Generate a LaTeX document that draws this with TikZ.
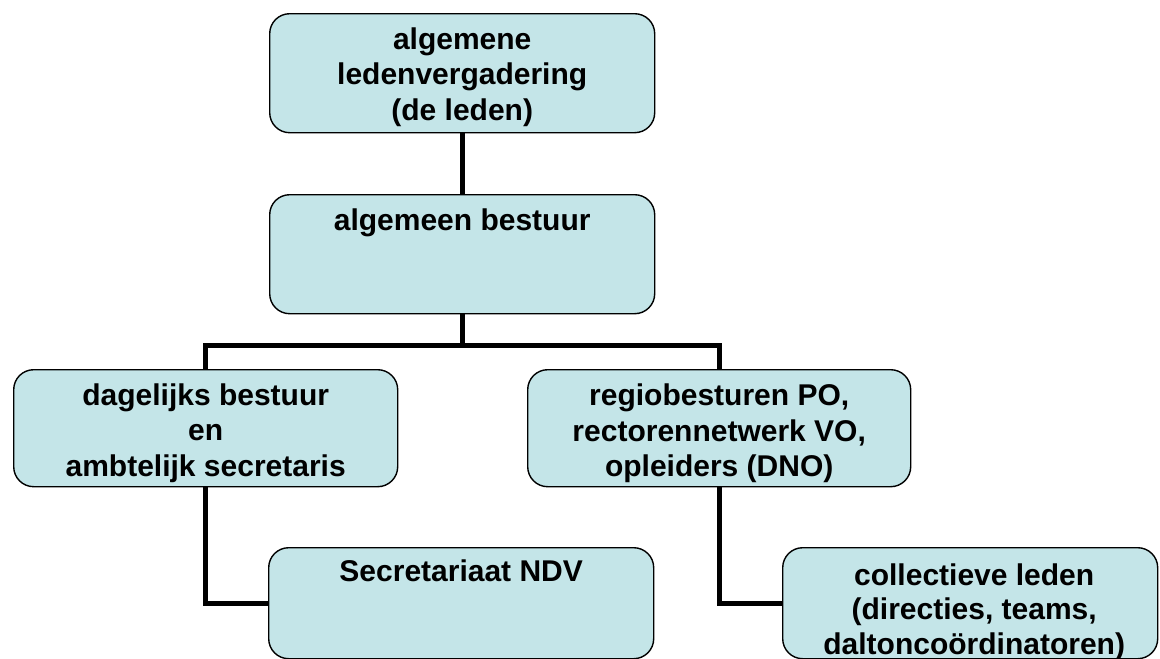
\documentclass[tikz,border=0pt]{standalone}
\usepackage{fontspec}
\setmainfont{Liberation Sans}
\definecolor{boxfill}{RGB}{196,229,232}
\begin{document}
\begin{tikzpicture}[x=1pt,y=-1pt,
  orgbox/.style={draw=black,line width=1.4pt,fill=boxfill,rounded corners=20pt,
    rectangle,inner sep=0pt,anchor=north west},
  boxtext/.style={anchor=north,align=center,inner sep=0pt,
    font=\bfseries\fontsize{30}{35.5}\selectfont},
  conn/.style={line width=5pt}]
\useasboundingbox (0,0) rectangle (1160,659);
% boxes
\node[orgbox,minimum width=385pt,minimum height=119pt] (alv) at (269,13) {};
\node[orgbox,minimum width=385pt,minimum height=119pt] (ab) at (269,194) {};
\node[orgbox,minimum width=384pt,minimum height=117pt] (db) at (13,369) {};
\node[orgbox,minimum width=383pt,minimum height=117pt] (rb) at (527,369) {};
\node[orgbox,minimum width=385pt,minimum height=111pt] (sec) at (268,547) {};
\node[orgbox,minimum width=375pt,minimum height=111pt] (cl) at (782,547) {};
% texts
\node[boxtext] (talv) at ([yshift=-14.5pt]alv.north) {algemene\\ledenvergadering\\(de leden)};
\node[boxtext] (tab) at ([yshift=-14.5pt]ab.north) {algemeen bestuur};
\node[boxtext] (tdb) at ([yshift=-14.5pt]db.north) {dagelijks bestuur\\en\\ambtelijk secretaris};
\node[boxtext] (trb) at ([yshift=-15pt]rb.north) {regiobesturen PO,\\rectorennetwerk VO,\\opleiders (DNO)};
\node[boxtext] (tsec) at ([yshift=-13pt]sec.north) {Secretariaat NDV};
\node[boxtext,font=\bfseries\fontsize{30}{34.5}\selectfont] (tcl) at ([yshift=-16.5pt,xshift=4pt]cl.north) {collectieve leden\\(directies, teams,\\daltoncoördinatoren)};
% connectors
\coordinate (bar) at (ab.south |- 0,345);
\draw[conn] (alv.south) -- (ab.north);
\draw[conn] (ab.south) -- (bar);
\draw[conn] (bar) -| (db.north);
\draw[conn] (bar) -| (rb.north);
\draw[conn] (db.south) |- (sec.west);
\draw[conn] (rb.south) |- (cl.west);
\end{tikzpicture}
\end{document}
